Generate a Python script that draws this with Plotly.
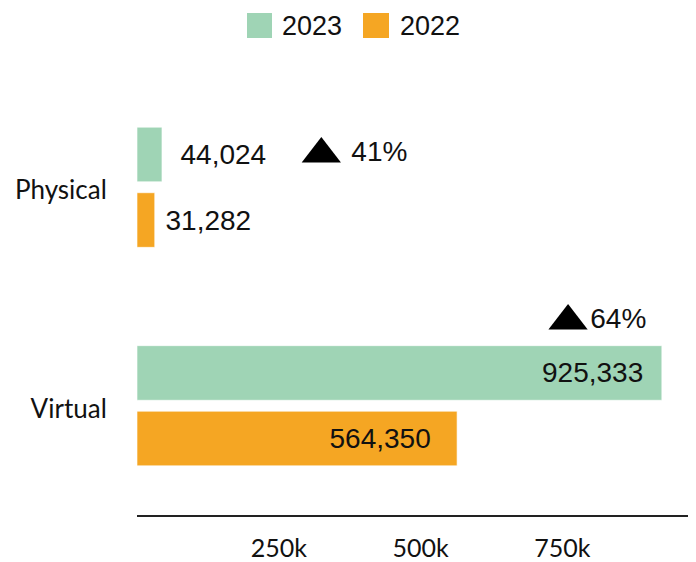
import plotly.graph_objects as go

categories = ["Virtual", "Physical"]
years = ["2022", "2023"]
values_2022 = [564350, 31282]
values_2023 = [925333, 44024]
tick_vals = [250000, 500000, 750000]
tick_text = ["250k", "500k", "750k"]

# placement of growth markers (x in data units, y offset from category centre)
growth_x = [760000, 325000]
growth_y_offset = [0.388, 0.152]

NB = "\u00a0"
label_templates = {
    "2022": ["%{x:,}" + NB * 3, NB + "%{x:,}"],
    "2023": ["%{x:,}" + NB * 2, NB * 2 + "%{x:,}"],
}
growth_prefix = ["", NB]

colors = {"2023": "#9FD4B5", "2022": "#F5A623"}
label_font = "Liberation Sans, Arial, sans-serif"
tick_font = "Lato, sans-serif"
ypos = list(range(len(categories)))

fig = go.Figure()
for yr, vals in (("2022", values_2022), ("2023", values_2023)):
    fig.add_trace(go.Bar(
        y=ypos, x=vals, orientation="h", name=yr,
        marker=dict(color=colors[yr], line=dict(color="rgba(255,255,255,0.6)", width=1)),
        texttemplate=label_templates[yr], textposition="auto", insidetextanchor="end",
        textfont=dict(family=label_font, size=28, color="#111"),
        constraintext="none", cliponaxis=False, showlegend=False,
    ))

growth = [f"{p}{round((b / a - 1) * 100)}%" for p, a, b in zip(growth_prefix, values_2022, values_2023)]
fig.add_trace(go.Scatter(
    x=growth_x, y=[p + o for p, o in zip(ypos, growth_y_offset)],
    mode="markers+text", text=growth, textposition="middle right",
    marker=dict(symbol="triangle-up", size=34, color="#000"),
    textfont=dict(family=label_font, size=28, color="#111"),
    showlegend=False, cliponaxis=False,
))

# custom legend
legend_items = [("2023", 0.1989, 0.2441, 0.2586), ("2022", 0.4087, 0.4557, 0.472)]
for yr, x0, x1, xt in legend_items:
    fig.add_shape(type="rect", xref="paper", yref="paper", x0=x0, x1=x1,
                  y0=1.0915, y1=1.1487, fillcolor=colors[yr], line=dict(width=0))
    fig.add_annotation(xref="paper", yref="paper", x=xt, y=1.12, text=yr,
                       showarrow=False, xanchor="left", yanchor="middle",
                       font=dict(family=label_font, size=27, color="#111"))

fig.update_layout(
    width=688, height=554,
    margin=dict(l=129, r=6, t=70, b=47, autoexpand=False),
    paper_bgcolor="white", plot_bgcolor="white",
    barmode="group", bargap=0.4, bargroupgap=0.167,
    showlegend=False,
    xaxis=dict(range=[0, 975000], tickvals=tick_vals, ticktext=tick_text,
               automargin=False,
               showgrid=False, zeroline=False, showline=True, linecolor="#222",
               linewidth=2, ticks="outside", ticklen=10, tickcolor="rgba(0,0,0,0)",
               tickfont=dict(family=tick_font, size=25, color="#111")),
    yaxis=dict(range=[-0.5, 1.5], tickvals=ypos, ticktext=categories,
               automargin=False, ticklabelshift=3,
               showgrid=False, zeroline=False, showline=False,
               ticks="outside", ticklen=24, tickcolor="rgba(0,0,0,0)",
               tickfont=dict(family=tick_font, size=26, color="#111")),
)

fig.write_html("out.html")
